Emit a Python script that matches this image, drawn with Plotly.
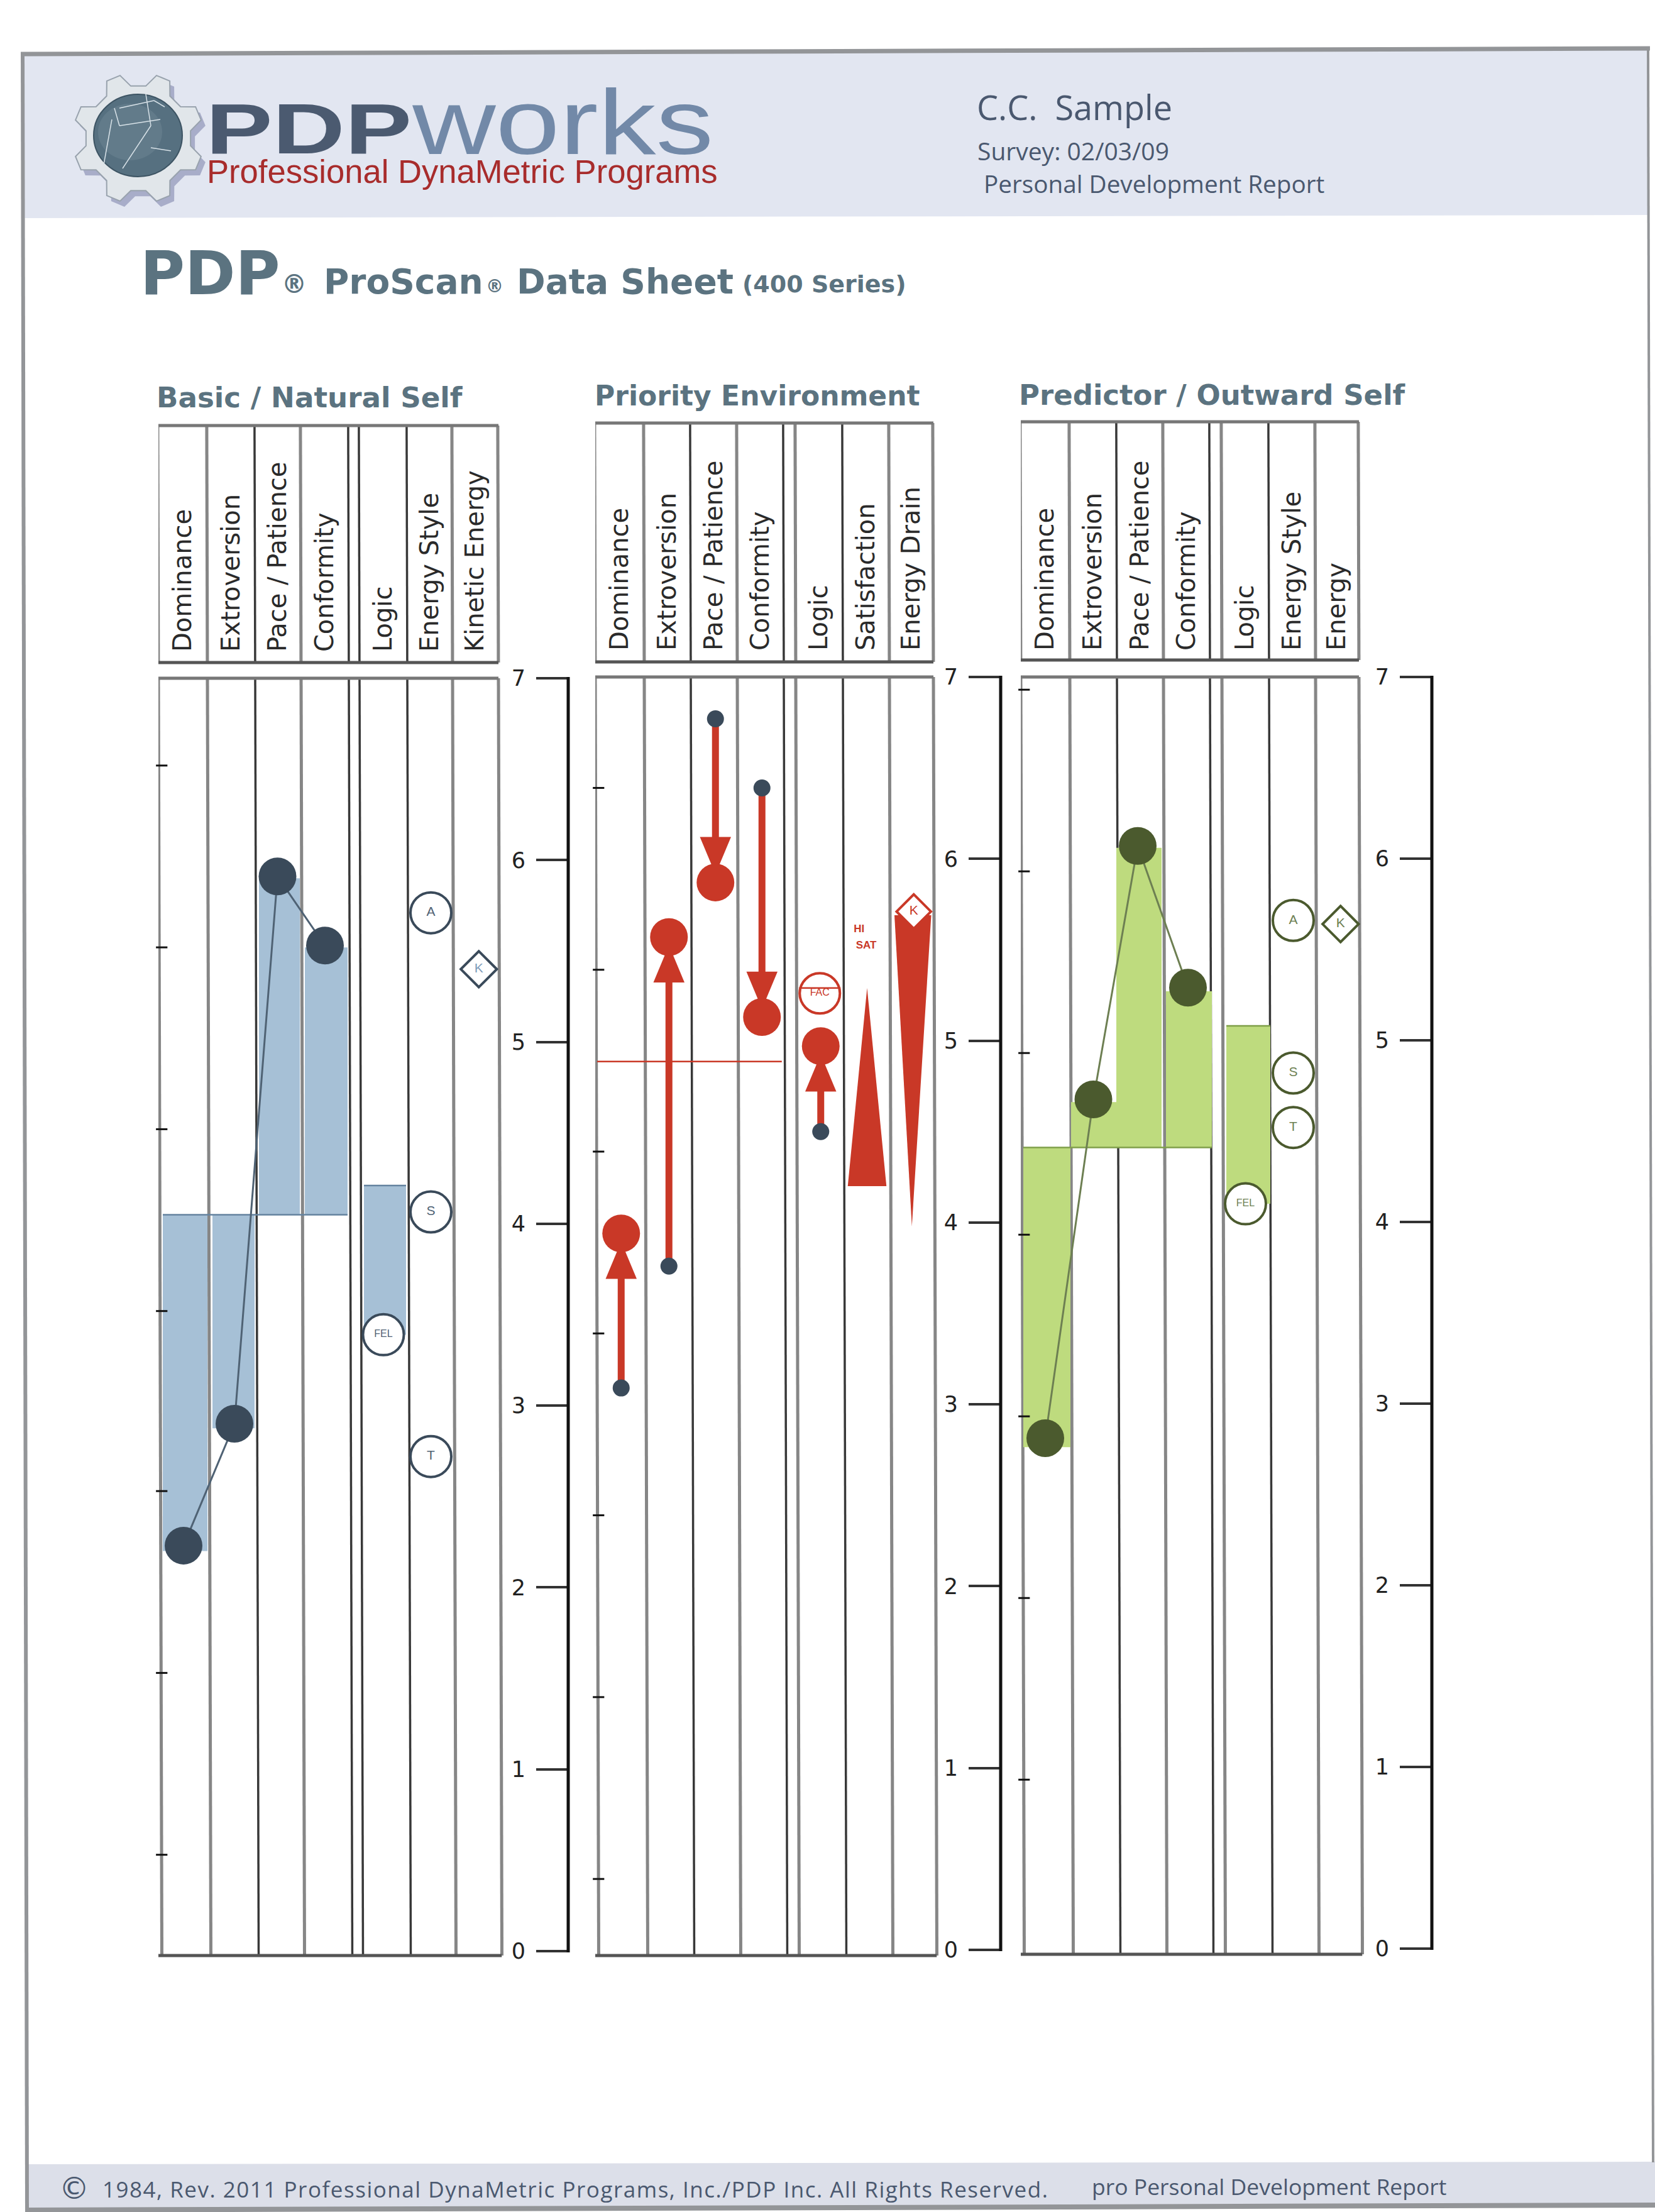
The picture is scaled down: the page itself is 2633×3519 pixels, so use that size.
import numpy as np
import plotly.graph_objects as go

W, H = 2633, 3519

# ---------- data ----------
CATS_1 = ["Dominance", "Extroversion", "Pace / Patience", "Conformity", "Logic", "Energy Style", "Kinetic Energy"]
CATS_2 = ["Dominance", "Extroversion", "Pace / Patience", "Conformity", "Logic", "Satisfaction", "Energy Drain"]
CATS_3 = ["Dominance", "Extroversion", "Pace / Patience", "Conformity", "Logic", "Energy Style", "Energy"]
Y_TICKS = [0, 1, 2, 3, 4, 5, 6, 7]

# Basic / Natural Self
BASIC_DOTS = [2.23, 2.90, 5.91, 5.53]
BASIC_BARS = [2.20, 2.875, 5.90, 5.52]
BASIC_BASE = 4.05
BASIC_LOGIC_TOP = 4.21
BASIC_FEL = 3.39
BASIC_A = 5.71
BASIC_S = 4.065
BASIC_T = 2.72
BASIC_K = 5.40
BASIC_HALF = [6.52, 5.52, 4.52, 3.52, 2.53, 1.53, 0.53]

# Priority Environment
PRIO_START = [3.09, 3.76, 6.77, 6.39, 4.50]
PRIO_END = [3.94, 5.57, 5.87, 5.13, 4.97]
PRIO_LINE = 4.885
PRIO_FAC = 5.26
PRIO_SAT_TOP = 5.29
PRIO_SAT_BASE = 4.20
PRIO_DRAIN_TOP = 5.69
PRIO_DRAIN_TIP = 3.98
PRIO_K = 5.71
PRIO_HALF = [6.39, 5.39, 4.39, 3.39, 2.39, 1.39, 0.39]

# Predictor / Outward Self
PRED_DOTS = [2.81, 4.675, 6.07, 5.29]
PRED_BARS = [2.76, 4.66, 6.06, 5.27]
PRED_BASE = 4.41
PRED_LOGIC_TOP = 5.08
PRED_FEL = 4.10
PRED_A = 5.66
PRED_S = 4.82
PRED_T = 4.52
PRED_K = 5.64
PRED_HALF = [6.93, 5.93, 4.93, 3.93, 2.93, 1.93, 0.93]

# ---------- style / layout ----------
NAVY, BLUE_FILL, BLUE_EDGE, NAVY_LINE = "#3a4a5a", "#a6c0d6", "#64839f", "#4f6274"
OLIVE, GREEN_FILL, GREEN_EDGE, OLIVE_LINE = "#4b5a2e", "#bedb7e", "#7f9f4a", "#6d7f52"
RED = "#c93827"
SLATE = "#5b7380"
INK = "#4a586f"
UNIT = 75.0
PAD = 0.1

PANELS = [
    dict(edges=[252, 330, 406, 479, 555, 572, 648, 720, 793], axis=904, y7=1079, y0=3104, bottom=3111,
         head=(677, 1054), cats=CATS_1, xa="x", ya="y", light=[0, 1, 3, 7, 8]),
    dict(edges=[947, 1025, 1099, 1173, 1247, 1266, 1341, 1415, 1485], axis=1592, y7=1077, y0=3102, bottom=3111,
         head=(673, 1053), cats=CATS_2, xa="x2", ya="y2", light=[0, 1, 3, 5, 7, 8]),
    dict(edges=[1624, 1702, 1777, 1851, 1925, 1944, 2019, 2093, 2162], axis=2278, y7=1077, y0=3100, bottom=3109,
         head=(671, 1050), cats=CATS_3, xa="x3", ya="y3", light=[0, 1, 3, 5, 7, 8]),
]
for p in PANELS:
    e = (np.array(p["edges"], float) - p["edges"][0]) / UNIT
    p["e"] = e
    p["centers"] = [(e[i] + e[i + 1]) / 2 for i in (0, 1, 2, 3, 5, 6, 7)]


def px(x):
    return x / W


def py(y):
    return 1 - y / H


fig = go.Figure()
shapes, annos = [], []


def poly(pts, fill, line=None, lw=0, layer="below"):
    d = "M" + " L".join(f"{px(x):.5f},{py(y):.5f}" for x, y in pts) + " Z"
    shapes.append(dict(type="path", xref="paper", yref="paper", path=d, fillcolor=fill,
                       line=dict(color=line or fill, width=lw), layer=layer))


def seg(x0, y0, x1, y1, color, lw, layer="below"):
    shapes.append(dict(type="line", xref="paper", yref="paper", x0=px(x0), y0=py(y0), x1=px(x1), y1=py(y1),
                       line=dict(color=color, width=lw), layer=layer))


def txt(x, y, text, size, color, family="Open Sans", anchor="left", weight=None, angle=0):
    f = dict(size=size, color=color, family=family)
    if weight:
        f["weight"] = weight
    annos.append(dict(xref="paper", yref="paper", x=px(x), y=py(y), text=text, showarrow=False,
                      xanchor=anchor, yanchor="middle", font=f, textangle=angle))


# page chrome
poly([(36, 86), (2622, 77), (2622, 342), (36, 347)], "#e2e6f1")
poly([(42, 3443), (2633, 3439), (2633, 3507), (42, 3513)], "#dcdfe9")
seg(33, 86, 2625, 77, "#939598", 7)
seg(36, 84, 43, 3518, "#939598", 6)
seg(2622, 78, 2630, 3440, "#939598", 4)
seg(40, 3516, 2633, 3508, "#939598", 8)

# logo gear
def gear(dx=0, dy=0):
    cx, cy = 220 + dx, 220 + dy
    pts = []
    for k in range(8):
        a = np.radians(22.5 + 45 * k)
        for da, r in ((-0.25, 84), (-0.11, 104), (0.11, 104), (0.25, 84)):
            pts.append((cx + 1.0 * r * np.sin(a + da), cy - r * np.cos(a + da)))
    return pts


poly(gear(7, 9), "#a8adc9")
poly(gear(), "#e1e6ea", "#98a2ad", 2)
shapes.append(dict(type="circle", xref="paper", yref="paper", x0=px(149), x1=px(290), y0=py(150), y1=py(281),
                   fillcolor="#567080", line=dict(color="#3d5463", width=2), layer="below"))
shapes.append(dict(type="circle", xref="paper", yref="paper", x0=px(156), x1=px(258), y0=py(165), y1=py(255),
                   fillcolor="#627b8a", line=dict(width=0), layer="below"))
for a, b, c, d in [(165, 262, 178, 190, ), (195, 268, 240, 200), (240, 200, 232, 150), (190, 200, 255, 190),
                   (182, 172, 190, 200), (190, 172, 245, 160), (240, 235, 272, 240), (245, 160, 262, 170)]:
    seg(a, b, c, d, "#d8e2e8", 1.5)

txt(491, 204, "PDP", 114, "#4b5a70", "Liberation Sans", "center", 700)
txt(895, 194, "works", 146, "#7289a8", "Liberation Sans", "center")
txt(327, 272, "Professional DynaMetric Programs", 52.6, "#a82c2c", "Liberation Sans")

txt(1552, 170, "C.C.  Sample", 54, INK)
txt(1553, 240, "Survey: 02/03/09", 39, INK)
txt(1563, 292, "Personal Development Report", 38.7, INK)

txt(221, 434, "PDP", 97, SLATE, "DejaVu Sans", weight=700)
txt(446, 452, "®", 40, SLATE, "DejaVu Sans", weight=700)
txt(513, 448, "ProScan", 55, SLATE, "DejaVu Sans", weight=700)
txt(771, 456, "®", 28, SLATE, "DejaVu Sans", weight=700)
txt(820, 448, "Data Sheet", 55, SLATE, "DejaVu Sans", weight=700)
txt(1179, 452, "(400 Series)", 38, SLATE, "DejaVu Sans", weight=700)

txt(247, 632, "Basic / Natural Self", 45.2, SLATE, "DejaVu Sans", weight=700)
txt(944, 630, "Priority Environment", 44, SLATE, "DejaVu Sans", weight=700)
txt(1619, 628, "Predictor / Outward Self", 45, SLATE, "DejaVu Sans", weight=700)

txt(92, 3481, "©", 48, INK, "DejaVu Sans")
txt(915, 3482, "1984, Rev. 2011 Professional DynaMetric Programs, Inc./PDP Inc. All Rights Reserved.", 35, INK, anchor="center")
txt(1735, 3478, "pro Personal Development Report", 35.5, INK)

layout_axes = {}
SKEW = 0.0027

for i, p in enumerate(PANELS):
    n = "" if i == 0 else str(i + 1)
    left, axis = p["edges"][0], p["axis"]
    u = (p["y0"] - p["y7"]) / 7
    layout_axes[f"xaxis{n}"] = dict(
        domain=[px(left), px(axis)], range=[0, (axis - left) / UNIT], anchor=p["ya"], side="top",
        tickmode="array", tickvals=p["centers"], ticktext=p["cats"], tickangle=-90,
        tickfont=dict(family="DejaVu Sans", size=40, color="#2a2a2a"), ticks="", showline=False,
        showgrid=False, zeroline=False, ticklabelstandoff=12, automargin=False)
    layout_axes[f"yaxis{n}"] = dict(
        domain=[py(p["y0"] + PAD * u), py(p["y7"] - PAD * u)], range=[-PAD, 7 + PAD], anchor=p["xa"], side="right",
        tickmode="array", tickvals=Y_TICKS, ticktext=[str(v) for v in Y_TICKS],
        ticks="inside", ticklen=51, tickwidth=4, tickcolor="#333333",
        ticklabelposition="inside", ticklabelstandoff=21,
        tickfont=dict(family="DejaVu Sans", size=35, color="#222222"),
        showline=False, showgrid=False, zeroline=False, automargin=False)
    seg(axis, p["y7"] - 2, axis, p["y0"] + 2, "#111111", 5, layer="above")
    # column rules, header box and chart box
    top, bot = p["head"]
    for j, ex in enumerate(p["e"]):
        light = j in p["light"]
        col, lw = ("#868686", 5) if light else ("#383838", 3.5)
        for y0_, y1_ in ((top, bot), (p["y7"], p["bottom"])):
            ds0, ds1 = (y0_ - p["y7"]) * SKEW / UNIT, (y1_ - p["y7"]) * SKEW / UNIT
            shapes.append(dict(type="line", xref=p["xa"], yref="paper", x0=ex + ds0, x1=ex + ds1,
                               y0=py(y0_), y1=py(y1_), line=dict(color=col, width=lw), layer="between"))
    for y_ in (top, bot, p["y7"], p["bottom"]):
        col = "#555555" if y_ in (bot, p["bottom"]) else "#777777"
        shapes.append(dict(type="line", xref=p["xa"], yref="paper", x0=0, x1=p["e"][-1] + 0.07 * (y_ > 2000),
                           y0=py(y_), y1=py(y_), line=dict(color=col, width=5), layer="between"))


def half_ticks(p, vals):
    fig.add_trace(go.Scatter(x=[0.07] * len(vals), y=vals, xaxis=p["xa"], yaxis=p["ya"], mode="markers",
                             marker=dict(symbol="line-ew", size=13, line=dict(color="#111111", width=3)),
                             cliponaxis=False))


def bars(p, idx, base, tops, fill, nudge, widths):
    xs = [p["centers"][k] + nudge[k] / UNIT for k in idx]
    fig.add_trace(go.Bar(x=xs, y=[t - b for t, b in zip(tops, base)], base=base,
                         width=[widths[k] / UNIT for k in idx], xaxis=p["xa"],
                         yaxis=p["ya"], marker=dict(color=fill, line=dict(width=0))))


def base_line(p, base, color, x0, x1):
    fig.add_trace(go.Scatter(x=[x0, x1], y=[base, base], xaxis=p["xa"], yaxis=p["ya"],
                             mode="lines", line=dict(color=color, width=2.5)))


def rings(p, xs, ys, labels, color, txtcolor, symbol="circle", size=65, fsize=21):
    fig.add_trace(go.Scatter(x=xs, y=ys, xaxis=p["xa"], yaxis=p["ya"], mode="markers+text", text=labels,
                             textposition="middle center",
                             textfont=dict(family="Liberation Sans", size=fsize, color=txtcolor),
                             marker=dict(symbol=symbol, size=size, color="white", line=dict(color=color, width=4)),
                             cliponaxis=False))


def scored(p, dots, barvals, base, ltop, fel, a, s, t, k, fill, edge, dark, linec, nudge, bar_nudge, bar_w, ktext):
    c = p["centers"]
    bars(p, [0, 1, 2, 3], [base] * 4, barvals, fill, bar_nudge, bar_w)
    bars(p, [4], [fel], [ltop], fill, bar_nudge, bar_w)
    base_line(p, base, edge, c[0] + (bar_nudge[0] - bar_w[0] / 2) / UNIT, c[3] + (bar_nudge[3] + bar_w[3] / 2) / UNIT)
    base_line(p, ltop, edge, c[4] + (bar_nudge[4] - bar_w[4] / 2) / UNIT, c[4] + (bar_nudge[4] + bar_w[4] / 2) / UNIT)
    half_ticks(p, HALF[p["ya"]])
    fig.add_trace(go.Scatter(x=[c[k_] + nudge[k_] / UNIT for k_ in range(4)], y=dots, xaxis=p["xa"], yaxis=p["ya"],
                             mode="lines+markers", line=dict(color=linec, width=3),
                             marker=dict(size=60, color=dark, line=dict(width=0))))
    rings(p, [c[5] + 0.02] * 3, [a, s, t], ["A", "S", "T"], dark, linec)
    rings(p, [c[4]], [fel], ["FEL"], dark, linec, fsize=16)
    rings(p, [c[6] + 0.07], [k], ["K"], dark, ktext, symbol="diamond", size=44, fsize=21)


HALF = {"y": BASIC_HALF, "y2": PRIO_HALF, "y3": PRED_HALF}

scored(PANELS[0], BASIC_DOTS, BASIC_BARS, BASIC_BASE, BASIC_LOGIC_TOP, BASIC_FEL, BASIC_A, BASIC_S, BASIC_T, BASIC_K,
       BLUE_FILL, BLUE_EDGE, NAVY, NAVY_LINE, [1, 5, -1, 0], [3.5, 3.5, 2, 2, 2.5], [71, 67, 65, 68, 67], "#7f9cba")
scored(PANELS[2], PRED_DOTS, PRED_BARS, PRED_BASE, PRED_LOGIC_TOP, PRED_FEL, PRED_A, PRED_S, PRED_T, PRED_K,
       GREEN_FILL, GREEN_EDGE, OLIVE, OLIVE_LINE, [0, 0, -4, 2], [2.5, 1, -2, 3.5, 4.5], [75, 73, 72, 73, 70], OLIVE_LINE)

# priority panel
p = PANELS[1]
c = p["centers"]
half_ticks(p, PRIO_HALF)
fig.add_trace(go.Scatter(x=[0.04, c[3] + 0.45], y=[PRIO_LINE, PRIO_LINE], xaxis="x2", yaxis="y2", mode="lines",
                         line=dict(color=RED, width=2.5)))
HEAD_H, HEAD_W = 0.205, 0.33
for k, (s_, e_) in enumerate(zip(PRIO_START, PRIO_END)):
    cx = c[k] + 0.03
    sign = 1 if e_ > s_ else -1
    fig.add_trace(go.Scatter(x=[cx, cx], y=[s_, e_ - sign * 0.2], xaxis="x2", yaxis="y2", mode="lines",
                             line=dict(color=RED, width=11)))
    tip = e_ - sign * 0.045
    fig.add_trace(go.Scatter(x=[cx - HEAD_W, cx + HEAD_W, cx], y=[tip - sign * HEAD_H, tip - sign * HEAD_H, tip],
                             xaxis="x2", yaxis="y2", mode="lines", fill="toself", fillcolor=RED,
                             line=dict(width=0, color=RED)))
    fig.add_trace(go.Scatter(x=[cx], y=[e_], xaxis="x2", yaxis="y2", mode="markers",
                             marker=dict(size=60, color=RED, line=dict(width=0))))
    fig.add_trace(go.Scatter(x=[cx], y=[s_], xaxis="x2", yaxis="y2", mode="markers",
                             marker=dict(size=27, color=NAVY, line=dict(width=0))))
# satisfaction and drain wedges
sx, dx_ = c[5] + 0.02, c[6] + 0.03
fig.add_trace(go.Scatter(x=[sx - 0.41, sx + 0.41, sx], y=[PRIO_SAT_BASE, PRIO_SAT_BASE, PRIO_SAT_TOP], xaxis="x2",
                         yaxis="y2", mode="lines", fill="toself", fillcolor=RED, line=dict(width=0, color=RED)))
fig.add_trace(go.Scatter(x=[dx_ - 0.39, dx_ + 0.39, dx_ - 0.02], y=[PRIO_DRAIN_TOP, PRIO_DRAIN_TOP, PRIO_DRAIN_TIP],
                         xaxis="x2", yaxis="y2", mode="lines", fill="toself", fillcolor=RED,
                         line=dict(width=0, color=RED)))
rings(p, [c[4] + 0.01], [PRIO_FAC], ["FAC"], RED, RED, size=64, fsize=16)
fig.add_trace(go.Scatter(x=[c[4] - 0.43, c[4] + 0.45], y=[PRIO_FAC + 0.03] * 2, xaxis="x2", yaxis="y2", mode="lines",
                         line=dict(color=RED, width=2.5)))
rings(p, [c[6] + 0.05], [PRIO_K], ["K"], RED, RED, symbol="diamond", size=42, fsize=21)
fig.add_trace(go.Scatter(x=[c[5] - 0.15, c[5]], y=[5.61, 5.52], xaxis="x2", yaxis="y2", mode="text",
                         text=["HI", "SAT"], textposition="middle center",
                         textfont=dict(family="Liberation Sans", size=17, color=RED, weight=700)))

fig.update_layout(width=W, height=H, margin=dict(l=0, r=0, t=0, b=0), paper_bgcolor="white", plot_bgcolor="rgba(0,0,0,0)",
                  showlegend=False, hovermode=False, barmode="overlay", shapes=shapes, annotations=annos, **layout_axes)

POST = """
document.body.style.margin='0';
document.querySelectorAll('.annotation-text').forEach(function(t){
  var s=t.textContent;
  if(s==='PDP'&&parseFloat(t.style.fontSize)>100){t.setAttribute('textLength',328);t.setAttribute('lengthAdjust','spacingAndGlyphs');}
  if(s==='works'){t.setAttribute('textLength',479);t.setAttribute('lengthAdjust','spacingAndGlyphs');}
  if(s.indexOf('1984')===0){t.setAttribute('textLength',1504);t.setAttribute('lengthAdjust','spacing');}
});
"""
fig.write_html("out.html", post_script=POST, config={"displayModeBar": False, "staticPlot": True})
